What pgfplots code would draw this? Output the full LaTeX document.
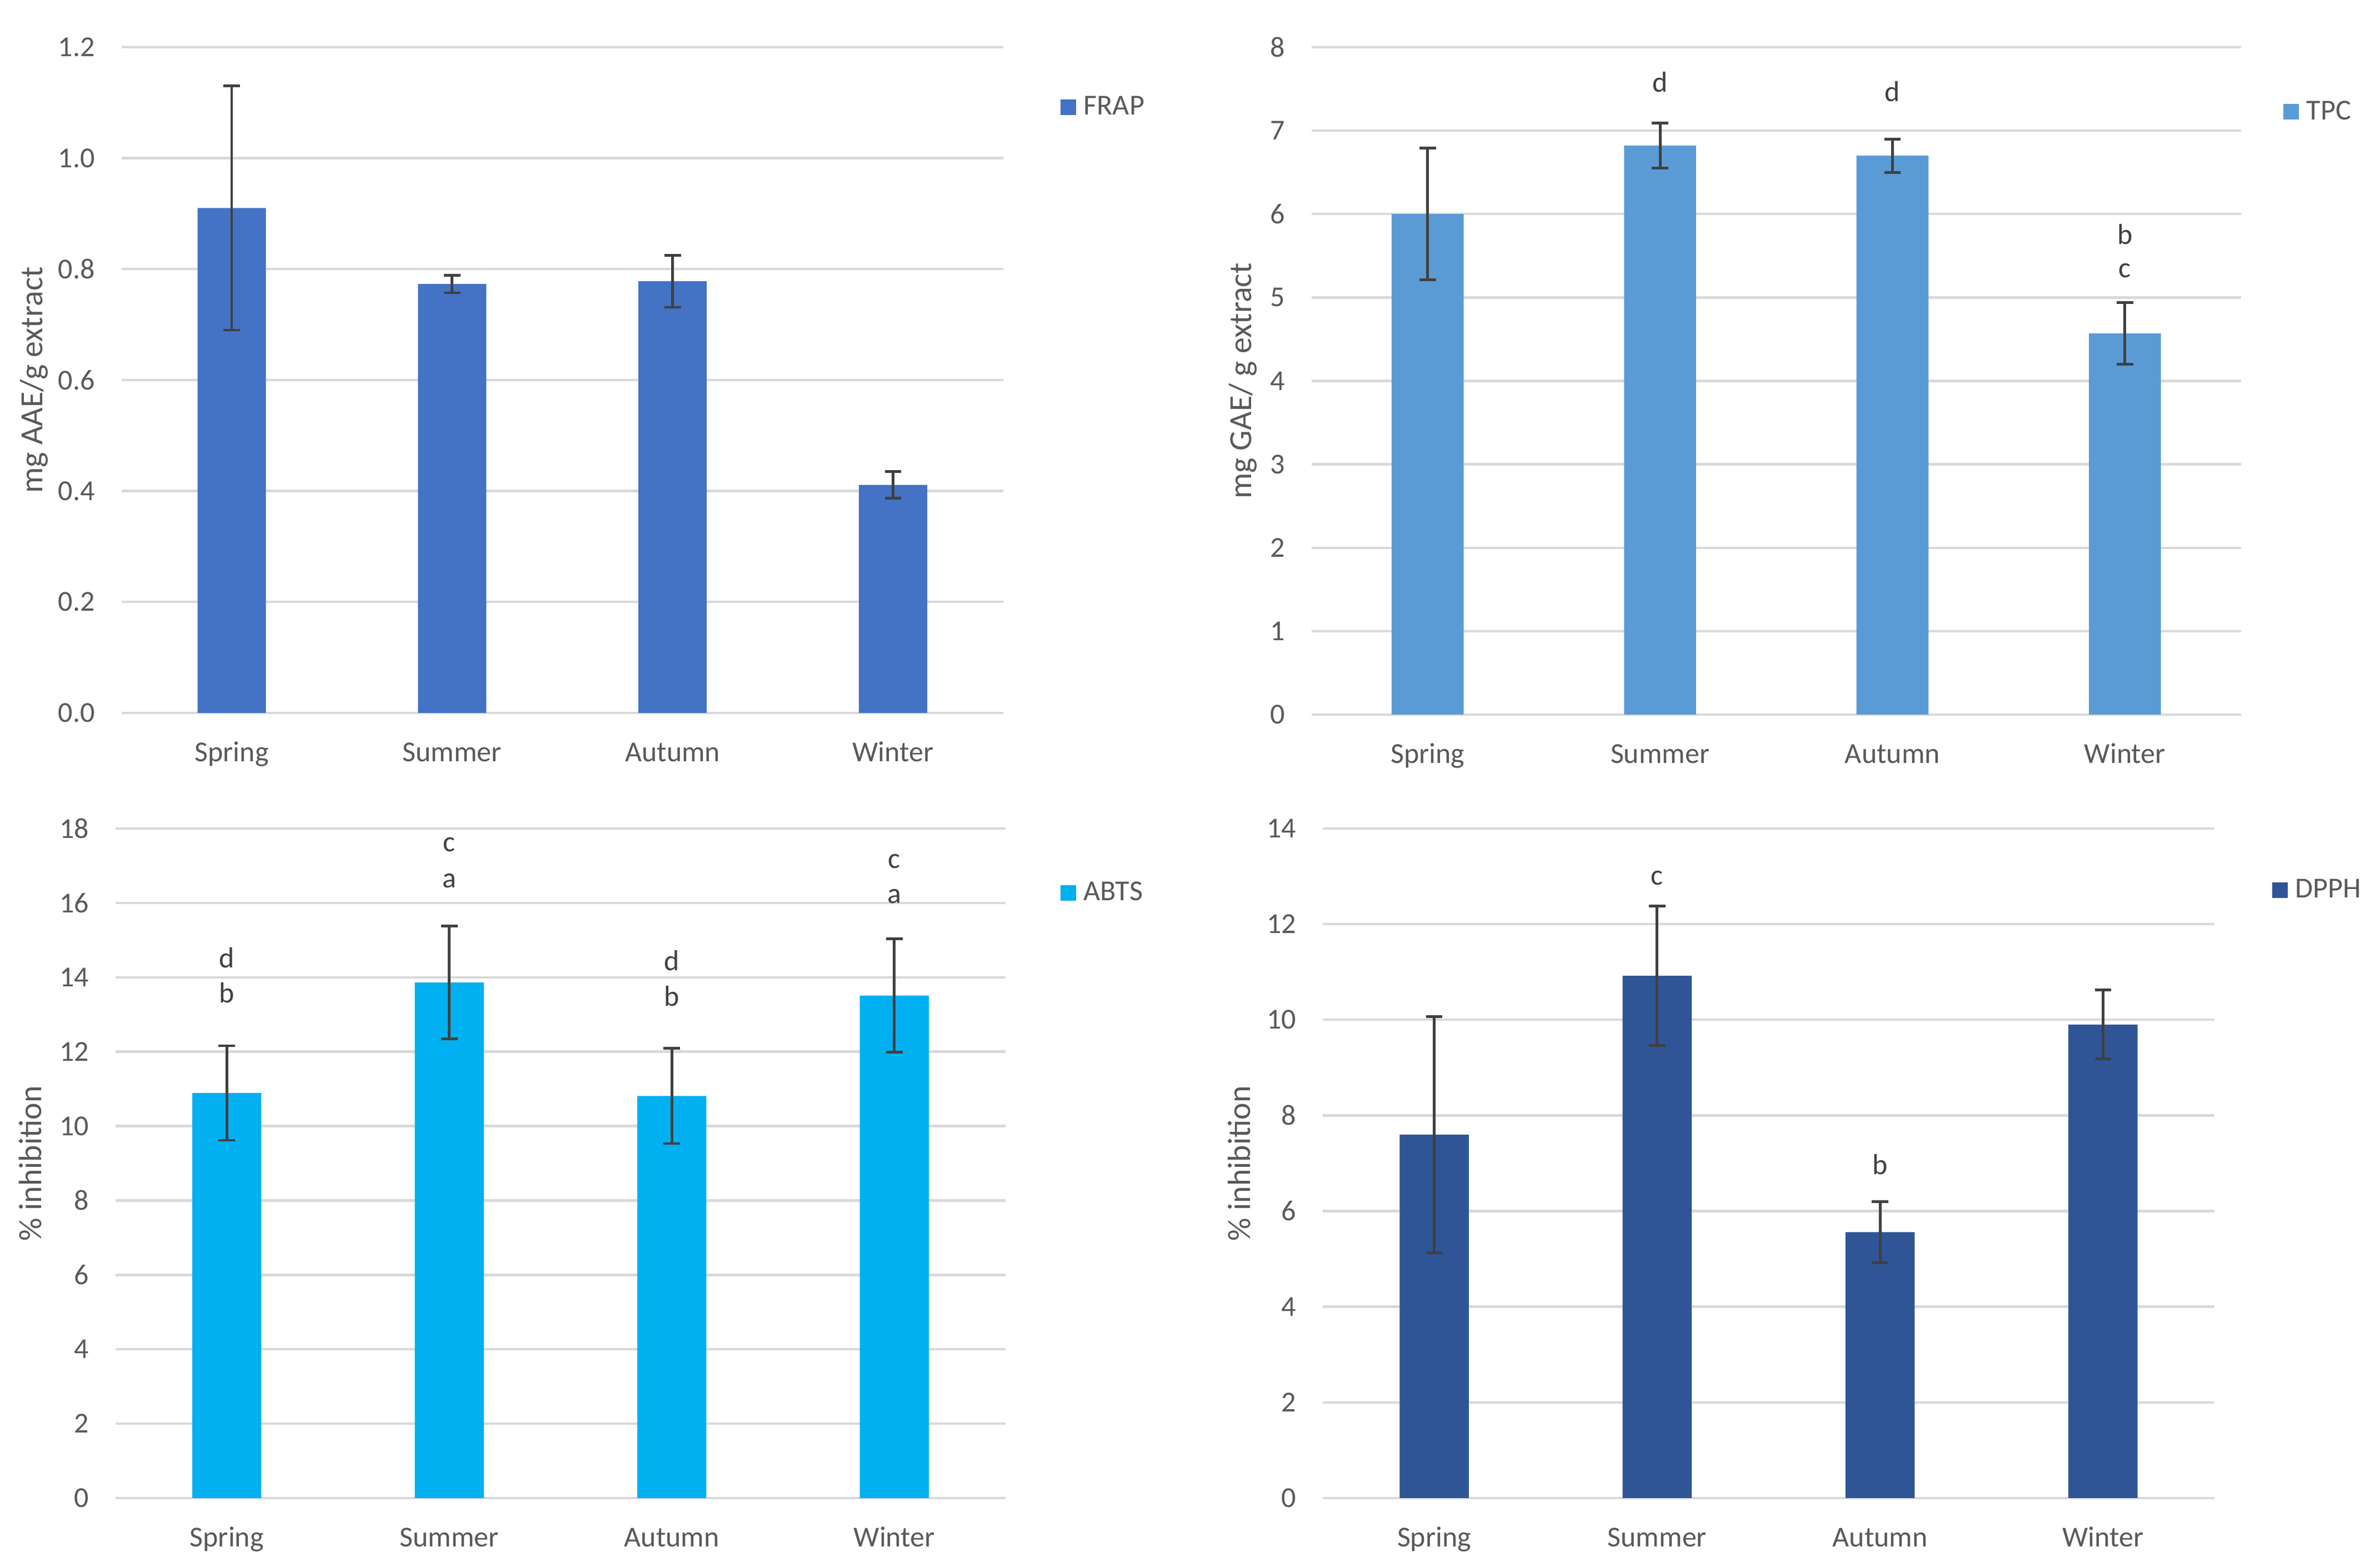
\documentclass[border=0pt]{standalone}
\usepackage{fontspec}
\setmainfont{Carlito}
\usepackage{pgfplots}
\pgfplotsset{compat=1.18}

\definecolor{frap}{HTML}{4472C4}
\definecolor{tpc}{HTML}{5B9BD5}
\definecolor{abts}{HTML}{00B0F0}
\definecolor{dpph}{HTML}{2F5597}
\definecolor{gridgray}{HTML}{D9D9D9}
\definecolor{tgray}{HTML}{595959}
\definecolor{errgray}{HTML}{404040}

\newcommand{\tickfont}{\fontsize{13pt}{15pt}\selectfont}
\newcommand{\labfont}{\fontsize{14.5pt}{17pt}\selectfont}

% common look of the four Excel-style panels
\pgfplotsset{
  panel/.style n args={4}{% colour, ylabel shift, legend shift, legend y
    anchor=south west, scale only axis,
    xmin=-0.5, xmax=3.5, ymin=0,
    xtick={0,1,2,3}, xticklabels={Spring,Summer,Autumn,Winter},
    axis line style={draw=none}, major tick length=0pt,
    ymajorgrids, grid style={gridgray, line width=1.1pt},
    tick label style={font=\tickfont, text=tgray},
    /pgf/number format/assume math mode=true,
    xticklabel style={anchor=base, yshift=-22pt},
    yticklabel style={anchor=east, inner sep=0pt, xshift=-11.8pt},
    every axis y label/.style={at={(rel axis cs:0,0.5)}, xshift=-#2, rotate=90,
      anchor=center, font=\labfont, text=tgray},
    legend style={at={(rel axis cs:1,#4)}, anchor=west, xshift=#3,
      draw=none, fill=none, inner sep=0pt, column sep=3.5pt,
      font=\tickfont, text=tgray, nodes={inner sep=0pt}},
    legend image code/.code={\fill[#1] (0pt,-3.5pt) rectangle (7pt,3.5pt);},
  },
  bars/.style={ybar, bar width=0.31, draw=none, fill=#1,
    error bars/.cd, y dir=both, y explicit,
    error bar style={line width=1.2pt, errgray},
    error mark options={rotate=90, line width=1.2pt, errgray, mark size=3.7pt}},
  letters/.style={draw=none, mark=none, forget plot,
    nodes near coords, point meta=explicit symbolic,
    nodes near coords style={anchor=center, font=\tickfont, text=errgray}},
}

\begin{document}
\begin{tikzpicture}
\path[use as bounding box] (0,0) rectangle (1071pt,702.75pt);

% FRAP
\begin{axis}[panel={frap}{39.4pt}{25.5pt}{0.91},
  at={(54.65pt,382pt)}, width=396.85pt, height=299.55pt,
  ymax=1.2, ytick={0,0.2,0.4,0.6,0.8,1.0,1.2},
  yticklabel style={/pgf/number format/.cd, fixed, fixed zerofill, precision=1},
  ylabel={mg AAE/g extract}]
\addplot[bars=frap] table[y error=e] {
x y e
0 0.91 0.22
1 0.773 0.016
2 0.778 0.047
3 0.411 0.024
};
\addlegendentry{FRAP}
\end{axis}

% TPC
\begin{axis}[panel={tpc}{30.7pt}{18.75pt}{0.903},
  at={(590.15pt,381.25pt)}, width=418.35pt, height=300.25pt,
  ymax=8, ytick={0,1,...,8},
  ylabel={mg GAE/ g extract}]
\addplot[bars=tpc] table[y error=e] {
x y e
0 6.00 0.79
1 6.82 0.27
2 6.70 0.20
3 4.57 0.37
};
\addlegendentry{TPC}
\addplot[letters] table[meta=l] {
x y l
1 7.58 d
2 7.47 d
3 5.76 b
3 5.32 c
};
\end{axis}

% ABTS
\begin{axis}[panel={abts}{38.3pt}{24.5pt}{0.904},
  at={(52pt,28.75pt)}, width=400.5pt, height=301.25pt,
  ymax=18, ytick={0,2,...,18},
  ylabel={\% inhibition}]
\addplot[bars=abts] table[y error=e] {
x y e
0 10.89 1.27
1 13.86 1.52
2 10.81 1.28
3 13.51 1.52
};
\addlegendentry{ABTS}
\addplot[letters] table[meta=l] {
x y l
0 14.52 d
0 13.58 b
1 17.57 c
1 16.60 a
2 14.45 d
2 13.50 b
3 17.12 c
3 16.17 a
};
\end{axis}

% DPPH
\begin{axis}[panel={dpph}{37.5pt}{25.75pt}{0.908},
  at={(595.25pt,28.75pt)}, width=401.25pt, height=301.25pt,
  ymax=14, ytick={0,2,...,14},
  ylabel={\% inhibition}]
\addplot[bars=dpph] table[y error=e] {
x y e
0 7.60 2.47
1 10.92 1.46
2 5.56 0.64
3 9.90 0.72
};
\addlegendentry{DPPH}
\addplot[letters] table[meta=l] {
x y l
1 12.96 c
2 6.97 b
};
\end{axis}
\end{tikzpicture}
\end{document}
